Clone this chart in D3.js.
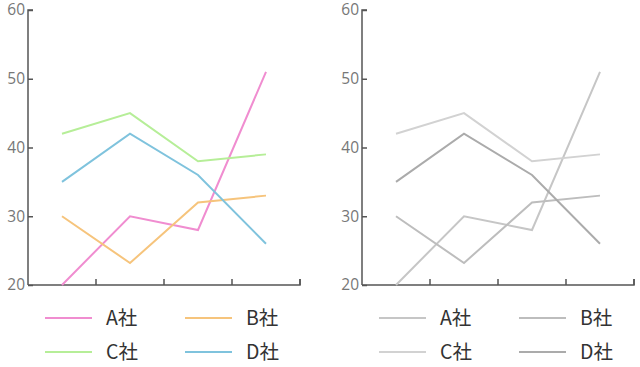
<!DOCTYPE html>
<html><head><meta charset="utf-8">
<script src="https://cdn.jsdelivr.net/npm/d3@7"></script>
<style>body{margin:0;background:#fff}svg{display:block}</style>
</head><body>
<svg id="c" width="640" height="367"></svg>
<script>
const categories = ["Q1","Q2","Q3","Q4"];
const seriesNames = ["A社","B社","C社","D社"];
const seriesA = [20, 30, 28, 51];
const seriesB = [30, 23.2, 32, 33];
const seriesC = [42, 45, 38, 39];
const seriesD = [35, 42, 36, 26];
const yTicks = [20, 30, 40, 50, 60];
const colorsColor = ["#f08dd0", "#f6c47c", "#b6ee98", "#7fc3dd"];
const colorsGray = ["#c6c6c6", "#bdbdbd", "#d2d2d2", "#ababab"];

const allSeries = [seriesA, seriesB, seriesC, seriesD];
const svg = d3.select("#c");
const font = "'Noto Sans CJK JP', 'Noto Sans', sans-serif";

function panel(x0, colors) {
  const g = svg.append("g");
  const x = d3.scaleBand().domain(categories).range([x0, x0 + 272]);
  const y = d3.scaleLinear().domain([20, 60]).range([285, 10]);
  // y axis
  const ya = g.append("g").attr("transform", `translate(${x0},0)`)
    .call(d3.axisRight(y).tickValues(yTicks).tickSize(5).tickFormat(d3.format("d")));
  ya.select(".domain").attr("stroke", "#555").attr("stroke-width", 1.5).attr("d", `M5,10H0V285`);
  ya.selectAll(".tick line").attr("stroke", "#555").attr("stroke-width", 1.5);
  ya.selectAll(".tick text").attr("x", -3).attr("text-anchor", "end")
    .attr("fill", "#777").attr("font-size", 15.5).attr("font-family", "'Open Sans', sans-serif");
  // x axis
  const xa = g.append("g").attr("transform", `translate(0,285)`)
    .call(d3.axisTop(x).tickSize(6).tickFormat(""));
  xa.select(".domain").attr("stroke", "#555").attr("stroke-width", 1.5).attr("d", `M${x0},0H${x0+272}V-6`);
  xa.selectAll(".tick line").attr("stroke", "#555").attr("stroke-width", 1.5)
    .attr("transform", `translate(${x.bandwidth()/2},0)`);
  // lines
  const line = d3.line().x((d, i) => x(categories[i]) + x.bandwidth()/2).y(d => y(d));
  allSeries.forEach((s, i) => {
    g.append("path").datum(s).attr("d", line).attr("fill", "none")
      .attr("stroke", colors[i]).attr("stroke-width", 2);
  });
  // legend
  const lx = [x0 + 17, x0 + 157];
  const ly = [318, 352];
  seriesNames.forEach((n, i) => {
    const cx = lx[i % 2], cy = ly[Math.floor(i / 2)];
    g.append("line").attr("x1", cx).attr("x2", cx + 47).attr("y1", cy).attr("y2", cy)
      .attr("stroke", colors[i]).attr("stroke-width", 2);
    g.append("text").attr("x", cx + 61).attr("y", cy).attr("dy", "0.36em")
      .attr("font-size", 19.5).attr("fill", "#333").attr("font-family", font).text(n);
  });
}
panel(28, colorsColor);
panel(362, colorsGray);
</script>
</body></html>
